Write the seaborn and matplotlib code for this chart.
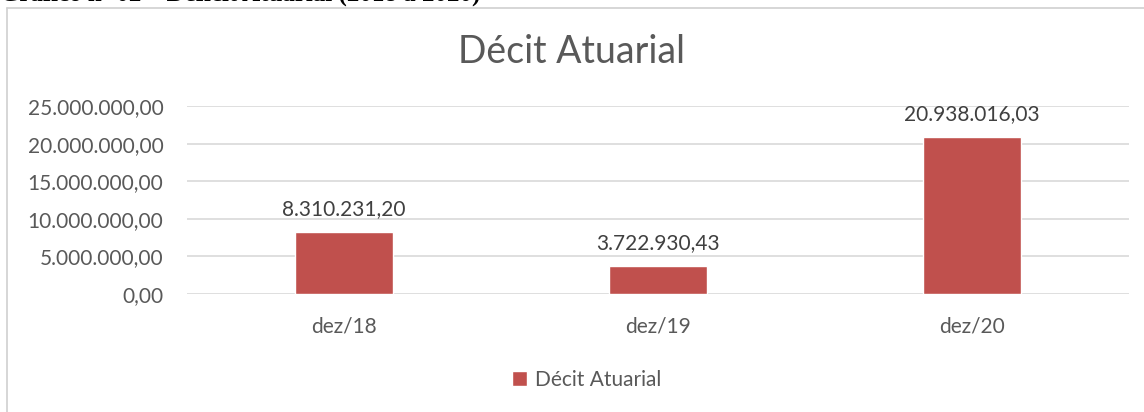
import matplotlib.pyplot as plt
import matplotlib.ticker as mticker
from matplotlib.lines import Line2D
from matplotlib.patches import Patch
import pandas as pd
import seaborn as sns

# chart data
categories = ["dez/18", "dez/19", "dez/20"]
deficit = [8310231.20, 3722930.43, 20938016.03]
series_name = "Décit Atuarial"
y_ticks = [0, 5000000, 10000000, 15000000, 20000000, 25000000]

BAR = "#C0504D"
TXT = "#595959"
GRID = "#D9D9D9"
FS = 15


def br_fmt(v, _pos=None):
    s = f"{v:,.2f}"
    return s.replace(",", "X").replace(".", ",").replace("X", ".")


sns.set_theme(style="white")
plt.rcParams["font.family"] = ["Lato", "DejaVu Sans"]

df = pd.DataFrame({"periodo": categories, "valor": deficit})

fig = plt.figure(figsize=(11.44, 4.12), dpi=100)
ax = fig.add_axes([187 / 1144, 1 - 294 / 412, (1129 - 187) / 1144, (294 - 106) / 412])

sns.barplot(data=df, x="periodo", y="valor", color=BAR, width=0.31, saturation=1, ax=ax, zorder=3)

ax.set_ylim(0, y_ticks[-1])
ax.set_yticks(y_ticks)
ax.yaxis.set_major_formatter(mticker.FuncFormatter(br_fmt))
ax.grid(True, axis="y", color=GRID, linewidth=1.2, zorder=0)
ax.set_axisbelow(True)
for sp in ax.spines.values():
    sp.set_visible(False)
ax.tick_params(axis="both", length=0, labelsize=FS, colors=TXT)
ax.tick_params(axis="y", pad=17)
ax.tick_params(axis="x", pad=16)
ax.set_xlabel("")
ax.set_ylabel("")

for i, v in enumerate(deficit):
    ax.annotate(br_fmt(v), (i, v), xytext=(0, 9), textcoords="offset points",
                ha="center", va="bottom", fontsize=FS, color="#404040")

fig.text(572 / 1144, 1 - 52 / 412, "Décit Atuarial", ha="center", va="center",
         fontsize=27, color="#595959")

fig.legend(handles=[Patch(facecolor=BAR, label=series_name)], loc="center",
           bbox_to_anchor=(587 / 1144, 1 - 380 / 412), frameon=False,
           fontsize=FS, labelcolor=TXT, handlelength=0.7, handleheight=0.7,
           handletextpad=0.4)

# chart frame (cut at right and bottom)
fig.add_artist(Line2D([6.5 / 1144, 6.5 / 1144], [0, 1 - 7.5 / 412], color="#D0D0D0", linewidth=1.2))
fig.add_artist(Line2D([6.5 / 1144, 1], [1 - 7.5 / 412, 1 - 7.5 / 412], color="#D0D0D0", linewidth=1.2))

# cropped document caption above the chart
fig.text(0.0, 1 - 0.5 / 412, "Gráfico nº 02 – Déficit Atuarial (2018 a 2020)", ha="left",
         va="baseline", fontsize=18, fontweight="bold", color="black",
         family=["Liberation Serif", "DejaVu Serif"])

fig.savefig("out.png", dpi=100)
